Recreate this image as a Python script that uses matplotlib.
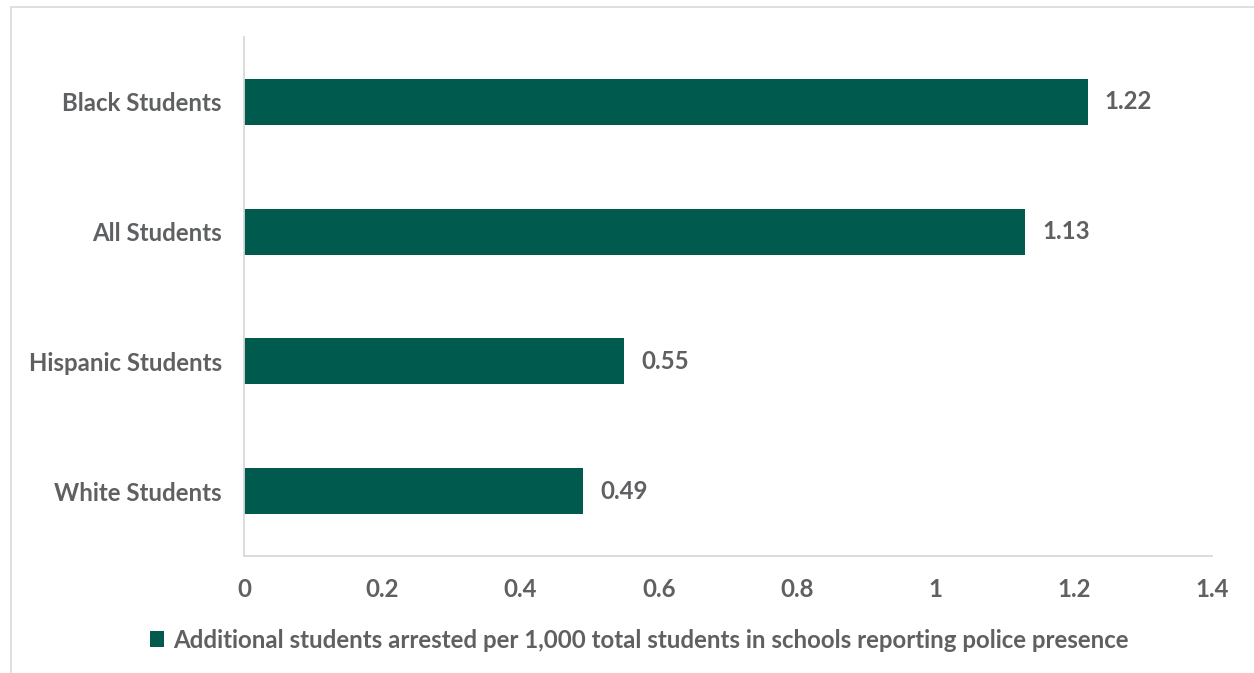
import matplotlib.pyplot as plt
from matplotlib.patches import Rectangle

categories = ["Black Students", "All Students", "Hispanic Students", "White Students"]
values = [1.22, 1.13, 0.55, 0.49]
xticks = [0, 0.2, 0.4, 0.6, 0.8, 1, 1.2, 1.4]
xtick_labels = ["0", "0.2", "0.4", "0.6", "0.8", "1", "1.2", "1.4"]
legend_label = "Additional students arrested per 1,000 total students in schools reporting police presence"

bar_color = "#005A4E"
text_color = "#5F6062"
grid_color = "#D9D9D9"

plt.rcParams['font.family'] = ['Lato', 'DejaVu Sans']
plt.rcParams['font.weight'] = 'bold'
fs = 17.3

fig = plt.figure(figsize=(12.54, 6.73), dpi=100)
ax = fig.add_axes([244/1254, 1 - 556/673, (1212-244)/1254, (556-37)/673])

# outer chart border
fig.patches.append(Rectangle((11/1254, -0.05), 1.2, 1 - 7/673 + 0.05,
                             transform=fig.transFigure, fill=False,
                             edgecolor=grid_color, linewidth=1.2))

ypos = list(range(len(categories)))
bars = ax.barh(ypos, values, height=0.354, color=bar_color, label=legend_label)

for y, v in zip(ypos, values):
    ax.text(v + 0.025, y, "{:.2f}".format(v), va="center", ha="left",
            fontsize=fs, fontweight="bold", color=text_color)

ax.set_ylim(len(categories) - 0.5, -0.5)
ax.set_xlim(0, 1.4)
ax.set_yticks(ypos)
ax.set_yticklabels(categories)
ax.set_xticks(xticks)
ax.set_xticklabels(xtick_labels)
ax.tick_params(axis="both", length=0, labelsize=fs, labelcolor=text_color)
ax.tick_params(axis="y", pad=16)
ax.tick_params(axis="x", pad=16)

for s in ["top", "right"]:
    ax.spines[s].set_visible(False)
for s in ["left", "bottom"]:
    ax.spines[s].set_color(grid_color)
    ax.spines[s].set_linewidth(1.3)

leg = fig.legend(loc="center", bbox_to_anchor=(639/1254, 1 - 640/673),
                 frameon=False, fontsize=fs, handlelength=0.6, handleheight=0.6,
                 handletextpad=0.35)
for t in leg.get_texts():
    t.set_color(text_color)

fig.savefig("out.png", dpi=100)
